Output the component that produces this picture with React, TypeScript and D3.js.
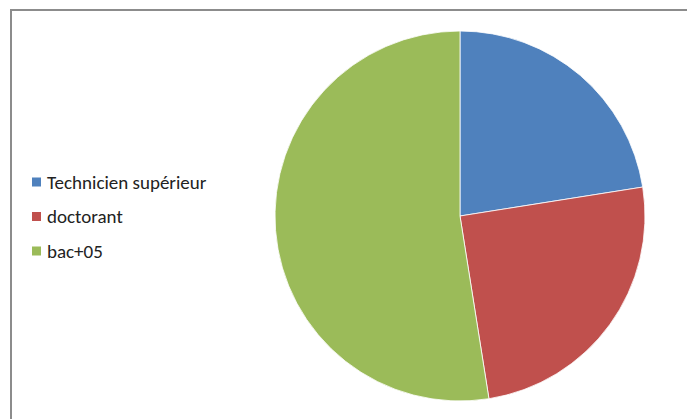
import React from "react";
import * as d3 from "d3";

const categories = ["Technicien supérieur", "doctorant", "bac+05"];
const values = [9, 10, 21];
const colors = ["#4F81BD", "#C0504D", "#9BBB59"];

export default function App() {
  const W = 687, H = 419;
  const cx = 460, cy = 216, r = 185;
  const pie = d3.pie<number>().sort(null).value((d) => d);
  const arcs = pie(values);
  const arc = d3.arc<d3.PieArcDatum<number>>().innerRadius(0).outerRadius(r);
  const legendY = d3.scalePoint<string>().domain(categories).range([182, 251]);
  return (
    <svg width={W} height={H} style={{ position: "absolute", left: 0, top: 0 }}>
      <rect x={0} y={0} width={W} height={H} fill="#fff" />
      <path d={`M11,${H + 5} L11,10 L${W + 5},10`} fill="none" stroke="#8c8c8c" strokeWidth={2} />
      <g transform={`translate(${cx},${cy})`}>
        {arcs.map((a, i) => (
          <path key={i} d={arc(a) || ""} fill={colors[i]} stroke="#fff" strokeWidth={0.8} />
        ))}
      </g>
      {categories.map((c, i) => (
        <g key={c} transform={`translate(32,${legendY(c)})`}>
          <rect x={0} y={-4.5} width={9} height={9} fill={colors[i]} />
          <text x={15} y={0} dy="0.35em" fontFamily="Carlito, Calibri, 'Open Sans', sans-serif" fontSize={19} fill="#222">{c}</text>
        </g>
      ))}
    </svg>
  );
}
